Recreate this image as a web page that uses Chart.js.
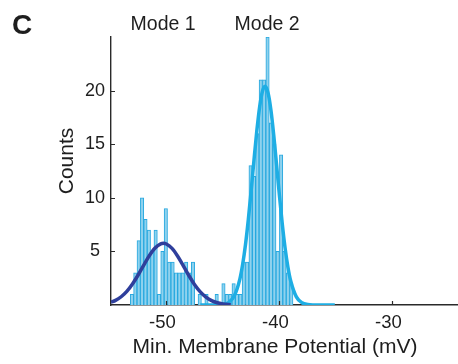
<!DOCTYPE html>
<html>
<head>
<meta charset="utf-8">
<script src="https://cdn.jsdelivr.net/npm/chart.js@4.4.1/dist/chart.umd.min.js"></script>
<style>
  html, body { margin: 0; padding: 0; background: #ffffff; }
  #wrap { width: 458px; height: 364px; position: relative; }
</style>
</head>
<body>
<div id="wrap"><canvas id="c" width="458" height="364"></canvas></div>
<script>
// ---- data ----
const binCenters = [-53.05, -52.75, -52.45, -52.15, -51.85, -51.55, -51.25, -50.95, -50.65, -50.35,
  -50.05, -49.75, -49.45, -49.15, -48.85, -48.55, -48.25, -47.95, -47.65, -47.35,
  -47.05, -46.75, -46.45, -46.15, -45.85, -45.55, -45.25, -44.95, -44.65, -44.35,
  -44.05, -43.75, -43.45, -43.15, -42.85, -42.55, -42.25, -41.95, -41.65, -41.35,
  -41.05, -40.75, -40.45, -40.15, -39.85, -39.55, -39.25, -38.95];
const binCounts = [1, 3, 6, 10, 8, 7, 5, 7, 1, 5,
  9, 4, 4, 3, 3, 3, 4, 3, 4, 0,
  1, 0, 1, 0, 0, 1, 0, 2, 1, 1,
  2, 1, 1, 4, 4, 13, 12, 16, 21, 21,
  25, 17, 15, 5, 14, 5, 3, 2];

// fitted curve of mode 1
const mode1X = [-54.9, -54.5, -54, -53.5, -53, -52.5, -52, -51.5, -51, -50.5, -50.27, -50,
  -49.5, -49, -48.5, -48, -47.5, -47, -46.5, -46, -45.5, -45, -44.5, -44.3];
const mode1Y = [0.26, 0.43, 0.77, 1.27, 1.96, 2.80, 3.73, 4.62, 5.32, 5.70, 5.75, 5.69,
  5.28, 4.55, 3.66, 2.73, 1.90, 1.23, 0.74, 0.41, 0.21, 0.10, 0.04, 0.03];

// fitted curve of mode 2
const mode2X = [-47, -46.5, -46, -45.5, -45, -44.5, -44, -43.5, -43.25, -43, -42.75, -42.5,
  -42.25, -42, -41.75, -41.5, -41.27, -41, -40.75, -40.5, -40.25, -40, -39.75, -39.5,
  -39.25, -39, -38.5, -38, -37.5, -37, -36, -35.1];
const mode2Y = [0, 0, 0, 0.01, 0.05, 0.23, 0.83, 2.42, 3.80, 5.65, 7.98, 10.66,
  13.52, 16.23, 18.48, 19.94, 20.4, 19.77, 18.17, 15.82, 13.06, 10.22, 7.58, 5.33,
  3.55, 2.24, 0.76, 0.21, 0.05, 0.01, 0, 0];

const xTickValues = [-50, -40, -30];
const yTickValues = [5, 10, 15, 20];
const panelLabel = 'C';
const modeLabels = ['Mode 1', 'Mode 2'];
const modeLabelX = [-50.2, -41.0];
const xTitle = 'Min. Membrane Potential (mV)';
const yTitle = 'Counts';

// ---- styling ----
const FONT = '"Liberation Sans", Arial, Helvetica, sans-serif';
const TEXT = '#1e1e1e';
const AXIS = '#2a2a2a';
const DARK = '#2f3f9c';
const CYAN = '#1eaee4';
const BAR_FILL = '#8fd2ee';
const BAR_EDGE = '#27a8df';

const histData = binCenters.map((x, i) => ({ x: x, y: binCounts[i] }));
const m1Data = mode1X.map((x, i) => ({ x: x, y: mode1Y[i] }));
const m2Data = mode2X.map((x, i) => ({ x: x, y: mode2Y[i] }));

const overlay = {
  id: 'overlay',
  afterDraw(chart) {
    const ctx = chart.ctx;
    const xs = chart.scales.x, ys = chart.scales.y, a = chart.chartArea;
    ctx.save();
    // inward tick marks
    ctx.strokeStyle = AXIS;
    ctx.lineWidth = 1.2;
    ctx.beginPath();
    yTickValues.forEach(v => {
      const y = Math.round(ys.getPixelForValue(v)) + 0.5;
      ctx.moveTo(a.left, y); ctx.lineTo(a.left + 4, y);
    });
    xTickValues.forEach(v => {
      const x = Math.round(xs.getPixelForValue(v)) + 0.5;
      ctx.moveTo(x, a.bottom); ctx.lineTo(x, a.bottom - 4);
    });
    ctx.stroke();

    ctx.fillStyle = TEXT;
    ctx.textBaseline = 'middle';
    // panel letter
    ctx.font = 'bold 28px ' + FONT;
    ctx.textAlign = 'center';
    ctx.fillText(panelLabel, 22, 26);
    // mode labels
    ctx.font = '19.5px ' + FONT;
    modeLabels.forEach((t, i) => {
      ctx.fillText(t, xs.getPixelForValue(modeLabelX[i]) - 1, 25);
    });
    // axis titles
    ctx.font = '21px ' + FONT;
    ctx.fillText(xTitle, 275, 347);
    ctx.save();
    ctx.translate(67, 161);
    ctx.rotate(-Math.PI / 2);
    ctx.fillText(yTitle, 0, 0);
    ctx.restore();
    ctx.restore();
  }
};

new Chart(document.getElementById('c'), {
  type: 'bar',
  data: {
    datasets: [
      {
        type: 'line', label: 'Mode 1 fit', data: m1Data,
        borderColor: DARK, borderWidth: 3.5, pointRadius: 0,
        cubicInterpolationMode: 'monotone', fill: false, order: 1
      },
      {
        type: 'line', label: 'Mode 2 fit', data: m2Data,
        borderColor: CYAN, borderWidth: 3.5, pointRadius: 0,
        cubicInterpolationMode: 'monotone', fill: false, order: 2
      },
      {
        type: 'bar', label: 'Counts', data: histData,
        backgroundColor: BAR_FILL, borderColor: BAR_EDGE, borderWidth: 1,
        borderSkipped: 'start', barPercentage: 1, categoryPercentage: 1,
        grouped: false, order: 3
      }
    ]
  },
  options: {
    responsive: false,
    devicePixelRatio: 1,
    animation: false,
    events: [],
    layout: { padding: { top: 37, left: 0, right: 0, bottom: 0 } },
    plugins: { legend: { display: false }, tooltip: { enabled: false } },
    scales: {
      x: {
        type: 'linear', min: -54.9, max: -24.2, offset: false,
        grid: { display: false, drawTicks: false, offset: false },
        border: { display: true, color: AXIS, width: 1.4 },
        afterBuildTicks(s) { s.ticks = xTickValues.map(v => ({ value: v })); },
        afterFit(s) { s.height = 59; },
        ticks: {
          color: TEXT, padding: 7, maxRotation: 0, labelOffset: -4,
          font: { family: FONT, size: 18.5 },
          callback: v => String(v)
        }
      },
      y: {
        type: 'linear', min: 0, max: 25,
        grid: { display: false, drawTicks: false },
        border: { display: true, color: AXIS, width: 1.4 },
        afterBuildTicks(s) { s.ticks = yTickValues.map(v => ({ value: v })); },
        afterFit(s) { s.width = 111; },
        ticks: {
          color: TEXT, padding: 6, crossAlign: 'center',
          font: { family: FONT, size: 18 },
          callback: v => String(v)
        }
      }
    }
  },
  plugins: [overlay]
});
</script>
</body>
</html>
